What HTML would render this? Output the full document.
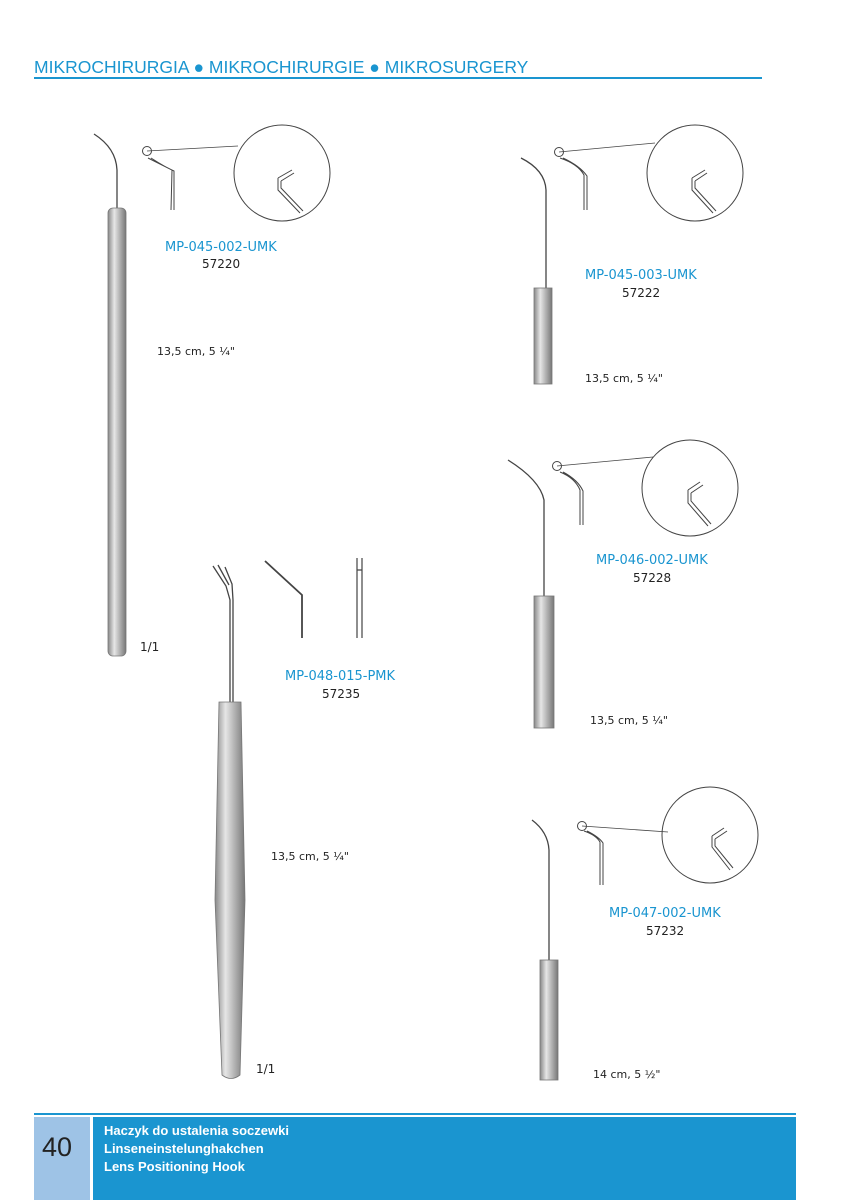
<!DOCTYPE html>
<html><head><meta charset="utf-8"><style>
body{margin:0;width:850px;height:1200px;background:#fff;position:relative;overflow:hidden;font-family:"DejaVu Sans","Liberation Sans",sans-serif}
.t{position:absolute;white-space:nowrap}
.c{color:#1a95d0;font-size:13px}
.n{color:#222;font-size:12px}
.s{color:#222;font-size:11px}
</style></head><body>
<div class="t" style="left:34px;top:57px;color:#1a95d0;font-size:17.5px;font-family:'Liberation Sans',sans-serif">MIKROCHIRURGIA ● MIKROCHIRURGIE ● MIKROSURGERY</div>
<div style="position:absolute;left:34px;top:77px;width:728px;height:2px;background:#1a95d0"></div>

<svg width="850" height="1200" style="position:absolute;left:0;top:0">
<defs>
<linearGradient id="g" x1="0" x2="1"><stop offset="0" stop-color="#888"/><stop offset=".35" stop-color="#e6e6e6"/><stop offset=".6" stop-color="#bbb"/><stop offset="1" stop-color="#777"/></linearGradient>
</defs>
<g fill="none" stroke="#444" stroke-width="1.3">
<path d="M94 134 Q116 148 117 170 L117 210"/>
<rect x="108" y="208" width="18" height="448" rx="5" fill="url(#g)" stroke="#777" stroke-width=".8"/>
<circle cx="147" cy="151" r="4.5" stroke-width="1"/>
<path d="M147 151 L238 146" stroke-width=".8"/>
<path d="M148 158 Q162 165 172 170 L171 210 M151 158 Q165 167 174 171 L174 210" stroke-width="1"/>
<circle cx="282" cy="173" r="48" stroke-width="1"/>
<path d="M278 178 L292 170 M281 181 L294 173 M278 178 L278 190 L300 213 M281 181 L281 188 L303 211" stroke-width="1"/>
<path d="M521 158 Q545 170 546 190 L546 290"/>
<rect x="534" y="288" width="18" height="96" fill="url(#g)" stroke="#777" stroke-width=".8"/>
<circle cx="559" cy="152" r="4.5" stroke-width="1"/>
<path d="M559 152 L655 143" stroke-width=".8"/>
<path d="M560 158 Q578 164 584 175 L584 210 M563 158 Q580 166 587 176 L587 210" stroke-width="1"/>
<circle cx="695" cy="173" r="48" stroke-width="1"/>
<path d="M692 178 L705 170 M695 181 L707 173 M692 178 L692 190 L713 213 M695 181 L695 188 L716 211" stroke-width="1"/>
<path d="M508 460 Q540 480 544 500 L544 598"/>
<rect x="534" y="596" width="20" height="132" fill="url(#g)" stroke="#777" stroke-width=".8"/>
<circle cx="557" cy="466" r="4.5" stroke-width="1"/>
<path d="M557 466 L653 457" stroke-width=".8"/>
<path d="M560 472 Q575 478 580 490 L580 525 M563 472 Q578 480 583 491 L583 525" stroke-width="1"/>
<circle cx="690" cy="488" r="48" stroke-width="1"/>
<path d="M688 490 L700 482 M691 493 L703 485 M688 490 L688 503 L708 526 M691 493 L691 501 L711 524" stroke-width="1"/>
<path d="M532 820 Q548 832 549 850 L549 962"/>
<rect x="540" y="960" width="18" height="120" fill="url(#g)" stroke="#777" stroke-width=".8"/>
<circle cx="582" cy="826" r="4.5" stroke-width="1"/>
<path d="M582 826 L668 832" stroke-width=".8"/>
<path d="M584 831 Q596 835 600 842 L600 885 M587 831 Q599 837 603 843 L603 885" stroke-width="1"/>
<circle cx="710" cy="835" r="48" stroke-width="1"/>
<path d="M712 836 L724 828 M715 839 L727 831 M712 836 L712 847 L730 870 M715 839 L715 846 L733 868" stroke-width="1"/>
<path d="M213 566 L226 586 L230 600 L230 706 M218 565 L229 585 M225 567 L232 584 L233 600 L233 706" stroke-width="1.3"/>
<path d="M219 702 L241 702 L245 900 L240 1075 Q231 1082 222 1075 L215 900 Z" fill="url(#g)" stroke="#777" stroke-width=".8"/>
<path d="M265 561 L302 595 L302 638" stroke-width="1.8"/>
<path d="M357 558 L357 638 M362 558 L362 638 M357 570 L362 570" stroke-width="1.2"/>
</g>
</svg>

<div class="t c" style="left:165px;top:240px">MP-045-002-UMK</div>
<div class="t n" style="left:202px;top:257px">57220</div>
<div class="t s" style="left:157px;top:345px">13,5 cm, 5 ¼"</div>
<div class="t n" style="left:140px;top:640px">1/1</div>

<div class="t c" style="left:585px;top:268px">MP-045-003-UMK</div>
<div class="t n" style="left:622px;top:286px">57222</div>
<div class="t s" style="left:585px;top:372px">13,5 cm, 5 ¼"</div>

<div class="t c" style="left:596px;top:553px">MP-046-002-UMK</div>
<div class="t n" style="left:633px;top:571px">57228</div>
<div class="t s" style="left:590px;top:714px">13,5 cm, 5 ¼"</div>

<div class="t c" style="left:285px;top:669px">MP-048-015-PMK</div>
<div class="t n" style="left:322px;top:687px">57235</div>
<div class="t s" style="left:271px;top:850px">13,5 cm, 5 ¼"</div>
<div class="t n" style="left:256px;top:1062px">1/1</div>

<div class="t c" style="left:609px;top:906px">MP-047-002-UMK</div>
<div class="t n" style="left:646px;top:924px">57232</div>
<div class="t s" style="left:593px;top:1068px">14 cm, 5 ½"</div>

<div style="position:absolute;left:34px;top:1113px;width:762px;height:2px;background:#1a95d0"></div>
<div style="position:absolute;left:34px;top:1117px;width:56px;height:83px;background:#9ec3e6"></div>
<div style="position:absolute;left:93px;top:1117px;width:703px;height:83px;background:#1a95d0"></div>
<div class="t" style="left:42px;top:1132px;font-size:27px;color:#222;font-family:'Liberation Sans',sans-serif">40</div>
<div class="t" style="left:104px;top:1122px;font-size:13px;color:#fff;line-height:18px;font-weight:bold;font-family:'Liberation Sans',sans-serif">Haczyk do ustalenia soczewki<br>Linseneinstelunghakchen<br>Lens Positioning Hook</div>
</body></html>
